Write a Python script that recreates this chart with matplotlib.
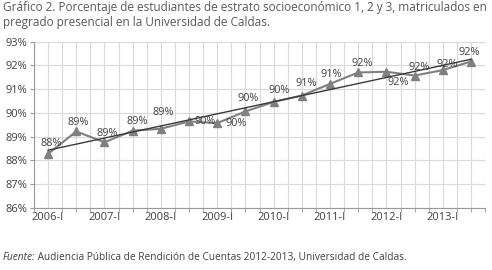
import numpy as np
import matplotlib
matplotlib.use("Agg")
import matplotlib.pyplot as plt
from matplotlib.ticker import MultipleLocator

plt.rcParams['font.family'] = ['Open Sans', 'DejaVu Sans']

# datos (porcentaje por semestre)
semestres = ['2006-I', '2006-II', '2007-I', '2007-II', '2008-I', '2008-II',
             '2009-I', '2009-II', '2010-I', '2010-II', '2011-I', '2011-II',
             '2012-I', '2012-II', '2013-I', '2013-II']
porcentaje = [88.27, 89.22, 88.76, 89.25, 89.33, 89.64, 89.57, 90.06,
              90.46, 90.73, 91.22, 91.70, 91.73, 91.57, 91.80, 92.16]
etiquetas_y = ['86%', '87%', '88%', '89%', '90%', '91%', '92%', '93%']

# desplazamiento de las etiquetas de datos (pixeles)
desp = [(3, 10), (2, 9), (3, 9), (5, 9), (2, 16), (16, 0), (19, 0), (3, 13),
        (5, 11), (4, 12), (1, 9), (4, 9), (12, -11), (5, 8), (4, 6), (-2, 9)]

gris = '#808080'
texto = '#404040'

fig = plt.figure(figsize=(4.92, 2.70), dpi=100)
ax = fig.add_axes([0.069, 0.23, 0.917, 0.616])

x = np.arange(len(semestres))
y = np.array(porcentaje)

ax.plot(x, y, color=gris, lw=1.5, marker='^', markersize=6, zorder=3)

# linea de tendencia lineal
m, b = np.polyfit(x, y, 1)
ax.plot(x, m * x + b, color='#3a3a3a', lw=1.0, zorder=4)

for i, v in enumerate(porcentaje):
    ax.annotate(f'{round(v)}%', (x[i], v), xytext=desp[i],
                textcoords='offset pixels', ha='center', va='center',
                fontsize=7.8, color=texto, zorder=5)

ax.set_xlim(-0.5, len(semestres) - 0.5)
ax.set_ylim(86, 93)
ax.set_yticks(range(86, 94))
ax.set_yticklabels(etiquetas_y)
ax.set_xticks(x[::2])
ax.set_xticklabels(semestres[::2])
ax.xaxis.set_minor_locator(MultipleLocator(0.5))

ax.grid(True, which='both', color='#d9d9d9', lw=0.8)
ax.set_axisbelow(True)
for s in ['top', 'right']:
    ax.spines[s].set_visible(False)
ax.spines['left'].set_color('#999999')
ax.spines['bottom'].set_color('#999999')
ax.tick_params(axis='y', labelsize=8, colors=texto, length=3, color='#999999', pad=2)
ax.tick_params(axis='x', which='major', labelsize=8, colors=texto, length=0, pad=3)
ax.tick_params(axis='x', which='minor', length=3, color='#999999')

fig.text(0.006, 0.995, 'Gráfico 2. Porcentaje de estudiantes de estrato socioeconómico 1, 2 y 3, matriculados en\n'
         'pregrado presencial en la Universidad de Caldas.',
         ha='left', va='top', fontsize=8.5, color='#595959', linespacing=1.15)

t1 = fig.text(0.006, 0.025, 'Fuente:', style='italic', fontsize=7.3,
              color=texto, ha='left', va='bottom')
ax.annotate(' Audiencia Pública de Rendición de Cuentas 2012-2013, Universidad de Caldas.',
            xy=(1, 0), xycoords=t1, ha='left', va='bottom', fontsize=7.3,
            color=texto, annotation_clip=False)

fig.savefig('out.png', dpi=100)
